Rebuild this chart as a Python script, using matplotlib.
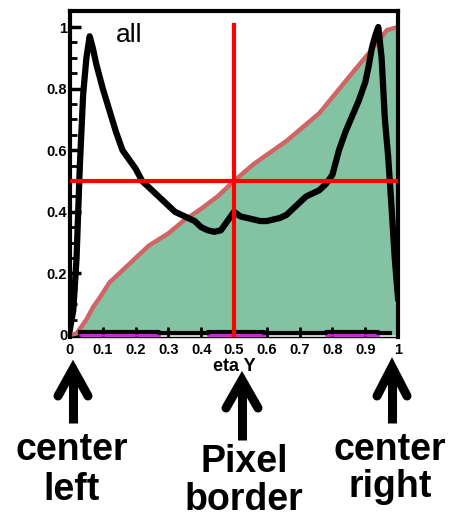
import matplotlib
matplotlib.use("Agg")
import matplotlib.pyplot as plt
from matplotlib.lines import Line2D

plt.rcParams['font.family'] = ['Liberation Sans', 'DejaVu Sans']
plt.rcParams['font.weight'] = 'bold'

W, H = 452, 519

# normalised eta distribution (black curve)
hist_x = [0.0, 0.01, 0.02, 0.03, 0.04, 0.05, 0.06, 0.07, 0.08, 0.09, 0.10,
          0.12, 0.14, 0.16, 0.18, 0.20, 0.22, 0.24, 0.26, 0.28, 0.30, 0.32,
          0.34, 0.36, 0.38, 0.40, 0.42, 0.44, 0.46, 0.48, 0.50, 0.52, 0.54,
          0.56, 0.58, 0.60, 0.62, 0.64, 0.66, 0.68, 0.70, 0.72, 0.74, 0.76,
          0.78, 0.80, 0.82, 0.84, 0.86, 0.88, 0.90, 0.91, 0.92, 0.93, 0.94,
          0.95, 0.96, 0.97, 0.98, 0.99, 1.0]
hist_y = [0.02, 0.08, 0.25, 0.55, 0.78, 0.90, 0.97, 0.93, 0.88, 0.84, 0.80,
          0.73, 0.66, 0.60, 0.57, 0.54, 0.50, 0.48, 0.46, 0.44, 0.42, 0.40,
          0.39, 0.38, 0.37, 0.35, 0.34, 0.335, 0.34, 0.37, 0.40, 0.385, 0.38,
          0.375, 0.37, 0.37, 0.375, 0.38, 0.39, 0.41, 0.43, 0.45, 0.46, 0.47,
          0.49, 0.52, 0.60, 0.66, 0.71, 0.76, 0.82, 0.87, 0.93, 0.97, 1.0,
          0.90, 0.70, 0.58, 0.42, 0.25, 0.12]

# cumulative distribution (green area)
cdf_x = [0.0, 0.02, 0.03, 0.05, 0.07, 0.09, 0.12, 0.14, 0.19, 0.24, 0.30,
         0.345, 0.40, 0.45, 0.50, 0.56, 0.66, 0.76, 0.86, 0.915, 0.966, 1.0]
cdf_y = [0.0, 0.005, 0.02, 0.05, 0.09, 0.12, 0.17, 0.19, 0.24, 0.29, 0.33,
         0.37, 0.41, 0.45, 0.50, 0.555, 0.63, 0.72, 0.85, 0.92, 0.99, 1.0]

# near-zero black series along the bottom
low_x = [0.03, 0.27, 0.27, 0.42, 0.42, 0.59, 0.59, 0.78, 0.78, 0.94, 0.94, 0.975]
low_y = [0.011, 0.011, 0.005, 0.005, 0.011, 0.011, 0.005, 0.005, 0.011, 0.011,
         0.005, 0.005]
# magenta series at zero (segments)
zero_x = [0.03, 0.27, None, 0.42, 0.59, None, 0.78, 0.94]
zero_y = [0.0, 0.0, None, 0.0, 0.0, None, 0.0, 0.0]

xticks = [0, 0.1, 0.2, 0.3, 0.4, 0.5, 0.6, 0.7, 0.8, 0.9, 1]
xtick_labels = ['0', '0.1', '0.2', '0.3', '0.4', '0.5', '0.6', '0.7', '0.8', '0.9', '1']
yticks = [0, 0.2, 0.4, 0.6, 0.8, 1]
ytick_labels = ['0', '0.2', '0.4', '0.6', '0.8', '1']

fig = plt.figure(figsize=(W / 100, H / 100), dpi=100)
ax = fig.add_axes([70 / W, 1 - 337 / H, 328 / W, 326 / H])

ax.fill_between(cdf_x, cdf_y, 0, color='#84c2a4', lw=0, zorder=1)
ax.plot(cdf_x, cdf_y, color='#cf6565', lw=3.2, zorder=2)
zx = [float('nan') if v is None else v for v in zero_x]
zy = [float('nan') if v is None else v for v in zero_y]
ax.plot(zx, zy, color='#ff00ff', lw=1.8, zorder=2)
ax.plot(low_x, low_y, color='black', lw=3, zorder=3)
ax.plot(hist_x, hist_y, color='black', lw=4.5, zorder=4)

# pixel border cross
ax.plot([0.5, 0.5], [-0.0065, 1.005], color='red', lw=3, zorder=5)
ax.plot([0, 1], [0.5, 0.5], color='red', lw=3, zorder=5)

ax.set_xlim(0, 1)
ax.set_ylim(-0.0065, 1.052)
ax.set_xticks(xticks)
ax.set_xticklabels(xtick_labels)
ax.set_yticks(yticks)
ax.set_yticklabels(ytick_labels)
ax.set_yticks([v / 20 for v in range(21)], minor=True)

for s in ['left', 'top', 'right']:
    ax.spines[s].set_linewidth(3)
ax.spines['bottom'].set_linewidth(1)

ax.tick_params(axis='y', which='major', direction='in', length=8, width=2.5,
               labelsize=10.5, pad=2)
ax.tick_params(axis='y', which='minor', direction='in', length=5, width=2)
ax.tick_params(axis='x', which='major', direction='in', length=7, width=2,
               labelsize=10.5, pad=4)

ax.set_xlabel('eta Y', fontsize=13, fontweight='bold', labelpad=1)
ax.text(0.18, 0.975, 'all', fontsize=19, fontweight='normal',
        ha='center', va='center')


def fx(x):
    return x / W


def fy(y):
    return 1 - y / H


def arrow(x, tip, head_end, bottom, half):
    fig.add_artist(Line2D([fx(x), fx(x)], [fy(tip + 4), fy(bottom)],
                          transform=fig.transFigure, color='black', lw=6.5,
                          solid_capstyle='butt'))
    fig.add_artist(Line2D([fx(x - half), fx(x), fx(x + half)],
                          [fy(head_end), fy(tip), fy(head_end)],
                          transform=fig.transFigure, color='black', lw=6.5,
                          solid_capstyle='round', solid_joinstyle='miter'))


arrow(73, 369, 396, 423, 15)
arrow(242, 380, 408, 440, 16)
arrow(392, 367, 396, 423, 15)

label_lines = [
    (72, 460, 'center'), (72, 500, 'left'),
    (244, 472, 'Pixel'), (244, 510, 'border'),
    (390, 460, 'center'), (390, 497, 'right'),
]
for x, y, t in label_lines:
    fig.text(fx(x), fy(y), t, fontsize=27, fontweight='bold',
             ha='center', va='baseline')

fig.savefig('out.png', dpi=100)
